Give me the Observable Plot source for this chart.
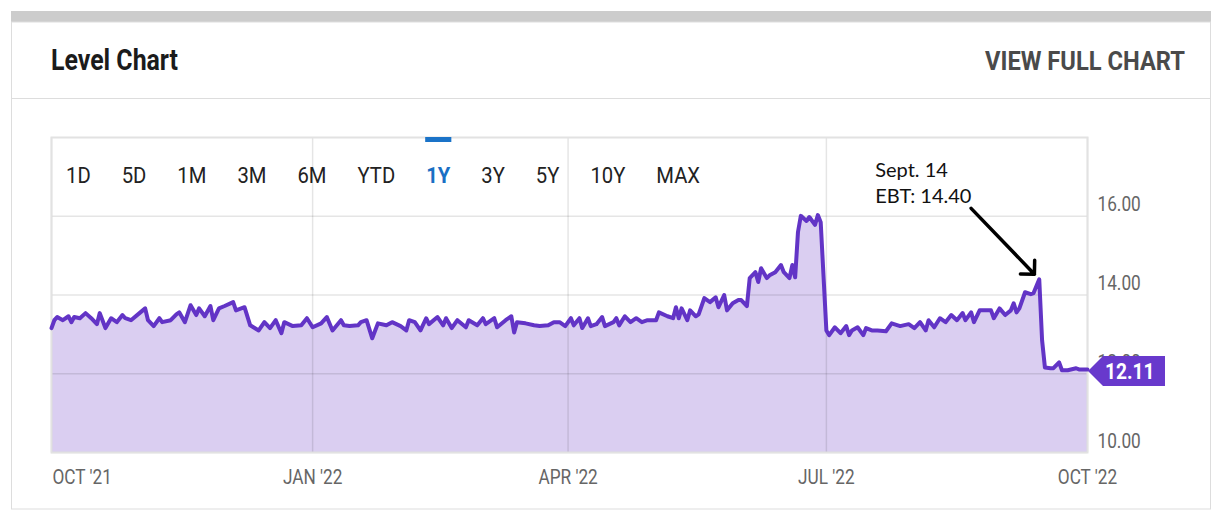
<!DOCTYPE html>
<html><head><meta charset="utf-8">
<script src="https://cdn.jsdelivr.net/npm/d3@7"></script>
<script src="https://cdn.jsdelivr.net/npm/@observablehq/plot@0.6"></script>
<style>
body{margin:0;background:#fff;}
#wrap{position:relative;width:1224px;height:520px;overflow:hidden;background:#fff}
#wrap svg{position:absolute;left:0;top:0}
</style></head><body><div id="wrap"></div>
<script>
// ---------- data ----------
const dates = [
"2021-10-01","2021-10-02","2021-10-03","2021-10-05","2021-10-07","2021-10-08","2021-10-09","2021-10-11","2021-10-13","2021-10-15",
"2021-10-17","2021-10-18","2021-10-20","2021-10-22","2021-10-24","2021-10-26","2021-10-27","2021-10-29","2021-11-01","2021-11-03",
"2021-11-04","2021-11-06","2021-11-08","2021-11-09","2021-11-12","2021-11-14","2021-11-15","2021-11-17","2021-11-19","2021-11-21",
"2021-11-22","2021-11-24","2021-11-26","2021-11-27","2021-11-29","2021-12-01","2021-12-04","2021-12-05","2021-12-08","2021-12-10",
"2021-12-13","2021-12-15","2021-12-17","2021-12-19","2021-12-21","2021-12-22","2021-12-25","2021-12-28","2021-12-30","2022-01-01",
"2022-01-04","2022-01-06","2022-01-08","2022-01-11","2022-01-12","2022-01-14","2022-01-17","2022-01-18","2022-01-20","2022-01-22",
"2022-01-24","2022-01-27","2022-01-29","2022-02-01","2022-02-03","2022-02-04","2022-02-06","2022-02-08","2022-02-10","2022-02-11",
"2022-02-14","2022-02-16","2022-02-17","2022-02-19","2022-02-21","2022-02-24","2022-02-25","2022-02-28","2022-03-02","2022-03-03",
"2022-03-06","2022-03-07","2022-03-10","2022-03-12","2022-03-13","2022-03-14","2022-03-17","2022-03-20","2022-03-22","2022-03-25",
"2022-03-27","2022-03-29","2022-03-31","2022-04-02","2022-04-03","2022-04-05","2022-04-06","2022-04-08","2022-04-09","2022-04-11",
"2022-04-13","2022-04-14","2022-04-17","2022-04-18","2022-04-19","2022-04-21","2022-04-23","2022-04-25","2022-04-27","2022-04-29",
"2022-05-02","2022-05-03","2022-05-06","2022-05-08","2022-05-09","2022-05-10","2022-05-11","2022-05-13","2022-05-14","2022-05-16",
"2022-05-17","2022-05-19","2022-05-21","2022-05-23","2022-05-24","2022-05-26","2022-05-27","2022-05-29","2022-05-31","2022-06-01",
"2022-06-03","2022-06-04","2022-06-06","2022-06-07","2022-06-08","2022-06-10","2022-06-11","2022-06-13","2022-06-15","2022-06-16",
"2022-06-18","2022-06-19","2022-06-20","2022-06-21","2022-06-22","2022-06-24","2022-06-25","2022-06-27","2022-06-28","2022-06-29",
"2022-07-01","2022-07-02","2022-07-04","2022-07-06","2022-07-08","2022-07-09","2022-07-10","2022-07-12","2022-07-14","2022-07-15",
"2022-07-17","2022-07-19","2022-07-22","2022-07-24","2022-07-27","2022-07-30","2022-08-01","2022-08-03","2022-08-05","2022-08-06",
"2022-08-08","2022-08-10","2022-08-12","2022-08-14","2022-08-16","2022-08-18","2022-08-19","2022-08-21","2022-08-22","2022-08-24",
"2022-08-26","2022-08-28","2022-08-29","2022-08-31","2022-09-02","2022-09-04","2022-09-05","2022-09-06","2022-09-07","2022-09-09",
"2022-09-11","2022-09-12","2022-09-14","2022-09-15","2022-09-16","2022-09-18","2022-09-19","2022-09-21","2022-09-22","2022-09-24",
"2022-09-27","2022-09-28","2022-10-01"
];
const values = [
13.16,13.36,13.44,13.36,13.46,13.31,13.44,13.41,13.54,13.41,
13.26,13.54,13.16,13.41,13.31,13.49,13.41,13.36,13.54,13.66,
13.36,13.21,13.41,13.31,13.36,13.51,13.56,13.31,13.74,13.49,
13.66,13.46,13.72,13.36,13.66,13.72,13.82,13.61,13.69,13.23,
13.10,13.31,13.16,13.36,13.03,13.31,13.21,13.23,13.41,13.18,
13.28,13.44,13.10,13.36,13.23,13.21,13.23,13.31,13.36,12.90,
13.28,13.23,13.31,13.21,13.10,13.36,13.31,13.10,13.41,13.26,
13.44,13.23,13.41,13.16,13.36,13.18,13.36,13.23,13.41,13.26,
13.41,13.18,13.36,13.46,13.05,13.31,13.28,13.23,13.21,13.23,
13.31,13.31,13.21,13.41,13.23,13.41,13.16,13.41,13.21,13.26,
13.44,13.21,13.31,13.41,13.23,13.46,13.31,13.41,13.31,13.36,
13.36,13.56,13.46,13.41,13.69,13.41,13.66,13.36,13.61,13.46,
13.51,13.92,13.82,13.94,13.69,14.00,13.61,13.79,13.87,13.87,
13.72,14.43,14.58,14.33,14.68,14.43,14.50,14.58,14.76,14.58,
14.43,14.76,14.45,15.60,16.01,15.88,15.98,15.78,16.03,15.85,
13.10,12.98,13.18,13.03,13.21,12.98,13.10,13.18,12.98,13.16,
13.10,13.10,13.08,13.28,13.21,13.26,13.16,13.31,13.10,13.36,
13.18,13.41,13.31,13.49,13.36,13.54,13.36,13.56,13.31,13.61,
13.61,13.61,13.41,13.66,13.49,13.61,13.79,13.56,13.66,14.07,
14.02,14.05,14.40,12.85,12.16,12.14,12.14,12.29,12.09,12.09,
12.14,12.11,12.11
];
const yTicks = [10, 12, 14, 16];
const xTicks = ["2021-10-01", "2022-01-01", "2022-04-01", "2022-07-01", "2022-10-01"];
const xTickLabels = ["OCT '21", "JAN '22", "APR '22", "JUL '22", "OCT '22"];
const ranges = ["1D", "5D", "1M", "3M", "6M", "YTD", "1Y", "3Y", "5Y", "10Y", "MAX"];
const activeRange = "1Y";
const annotation = {date: "2022-09-14", value: 14.40, text: "Sept. 14\nEBT: 14.40"};
const arrowFrom = {date: "2022-08-21", value: 16.2};
const titleText = "Level Chart";
const linkText = "VIEW FULL CHART";

// ---------- build ----------
const data = dates.map((d, i) => ({date: new Date(d), value: values[i]}));
const ticks = xTicks.map((d, i) => ({date: new Date(d), label: xTickLabels[i]}));
const x0 = new Date(xTicks[0]), x1 = new Date(xTicks[xTicks.length - 1]);
const ann = [{date: new Date(annotation.date), value: annotation.value, text: annotation.text}];

const LINE = "#6234c6", FILL = "#dacef1", TAG = "#6839cc";
const tickFont = {fontFamily: "Roboto", fontSize: 21, fill: "#666"};

const chart = Plot.plot({
  width: 1224, height: 520,
  marginLeft: 51, marginRight: 137, marginTop: 137, marginBottom: 68,
  style: {background: "transparent", overflow: "visible"},
  x: {type: "utc", domain: [x0, x1], axis: null},
  y: {domain: [10, 18], axis: null},
  marks: [
    Plot.areaY(data, {x: "date", y1: 10, y2: "value", fill: FILL}),
    Plot.ruleX(ticks, {x: "date", stroke: "#000", strokeOpacity: 0.1, strokeWidth: 1.5}),
    Plot.ruleY(yTicks, {stroke: "#000", strokeOpacity: 0.1, strokeWidth: 1.5}),
    Plot.frame({stroke: "#e2e2e2", strokeWidth: 2}),
    Plot.line(data, {x: "date", y: "value", stroke: LINE, strokeWidth: 4, strokeLinejoin: "round"}),
    Plot.text(yTicks, {y: d => d, text: d => d.toFixed(2), frameAnchor: "right", textAnchor: "start", lineAnchor: "bottom", dx: 10, dy: -5, ...tickFont}),
    Plot.text(ticks.slice(0, 1), {x: "date", text: "label", frameAnchor: "bottom", textAnchor: "start", lineAnchor: "bottom", dx: 1, dy: 31, ...tickFont}),
    Plot.text(ticks.slice(1), {x: "date", text: "label", frameAnchor: "bottom", textAnchor: "middle", lineAnchor: "bottom", dy: 31, ...tickFont}),
    Plot.arrow(ann, {x1: () => new Date(arrowFrom.date), y1: () => arrowFrom.value, x2: "date", y2: "value", insetEnd: 7, stroke: "#000", strokeWidth: 3.5, headLength: 6, headAngle: 90}),
    Plot.text(ann, {x: "date", y: "value", text: "text", textAnchor: "start", lineAnchor: "top", lineHeight: 1.3, dx: -164, dy: -121, fontFamily: "Lato", fontSize: 20, fill: "#111"})
  ]
});

const wrap = document.getElementById("wrap");
wrap.appendChild(chart);

function condense(t, k) {
  const L = t.getComputedTextLength();
  t.setAttribute("textLength", L * k);
  t.setAttribute("lengthAdjust", "spacingAndGlyphs");
  return L * k;
}
chart.querySelectorAll('g[font-family="Roboto"] text').forEach(t => condense(t, 0.82));

// last value tag, positioned with the chart's scales
const sx = chart.scale("x"), sy = chart.scale("y");
const lastDate = new Date(dates[dates.length - 1]), lastVal = values[values.length - 1];
const px = sx.apply(lastDate), cy = sy.apply(lastVal) + 2;
const csel = d3.select(chart);
csel.append("path")
  .attr("d", `M${px + 1},${cy} L${px + 16},${cy - 15} L${px + 78},${cy - 15} L${px + 78},${cy + 15} L${px + 16},${cy + 15} Z`)
  .attr("fill", TAG);
const tagText = csel.append("text")
  .attr("x", px + 18).attr("y", cy + 8).attr("text-anchor", "start")
  .attr("font-family", "Roboto").attr("font-weight", 700).attr("font-size", 22)
  .attr("fill", "#fff").text(lastVal.toFixed(2));
condense(tagText.node(), 0.87);

// ---------- chrome (card, header, range selector) ----------
const svg = d3.create("svg").attr("width", 1224).attr("height", 520).style("pointer-events", "none");
wrap.appendChild(svg.node());
svg.append("rect").attr("x", 11).attr("y", 11).attr("width", 1200).attr("height", 11).attr("fill", "#cccccc");
svg.append("rect").attr("x", 11.5).attr("y", 22).attr("width", 1199).attr("height", 487).attr("fill", "none").attr("stroke", "#dddddd");
svg.append("line").attr("x1", 11).attr("x2", 1211).attr("y1", 98.5).attr("y2", 98.5).attr("stroke", "#dddddd");

const title = svg.append("text").attr("x", 51).attr("y", 70)
  .attr("font-family", "Roboto").attr("font-weight", 700).attr("font-size", 30).attr("fill", "#1b1b1b").text(titleText);
title.attr("textLength", 127).attr("lengthAdjust", "spacingAndGlyphs");

const link = svg.append("text").attr("x", 985).attr("y", 70)
  .attr("font-family", "Roboto").attr("font-weight", 700).attr("font-size", 25).attr("fill", "#4a4a4a").text(linkText);
link.attr("textLength", 200).attr("lengthAdjust", "spacingAndGlyphs");

let bx = 66;
ranges.forEach(r => {
  const active = r === activeRange;
  const t = svg.append("text").attr("x", bx).attr("y", 183)
    .attr("font-family", "Roboto").attr("font-size", 22)
    .attr("font-weight", active ? 700 : 400)
    .attr("fill", active ? "#1a6fc4" : "#222").text(r);
  const w = condense(t.node(), 0.92);
  if (active) svg.append("rect").attr("x", bx - 1).attr("y", 137).attr("width", w + 2).attr("height", 5).attr("fill", "#1a73c8");
  bx += w + 31;
});
</script></body></html>
